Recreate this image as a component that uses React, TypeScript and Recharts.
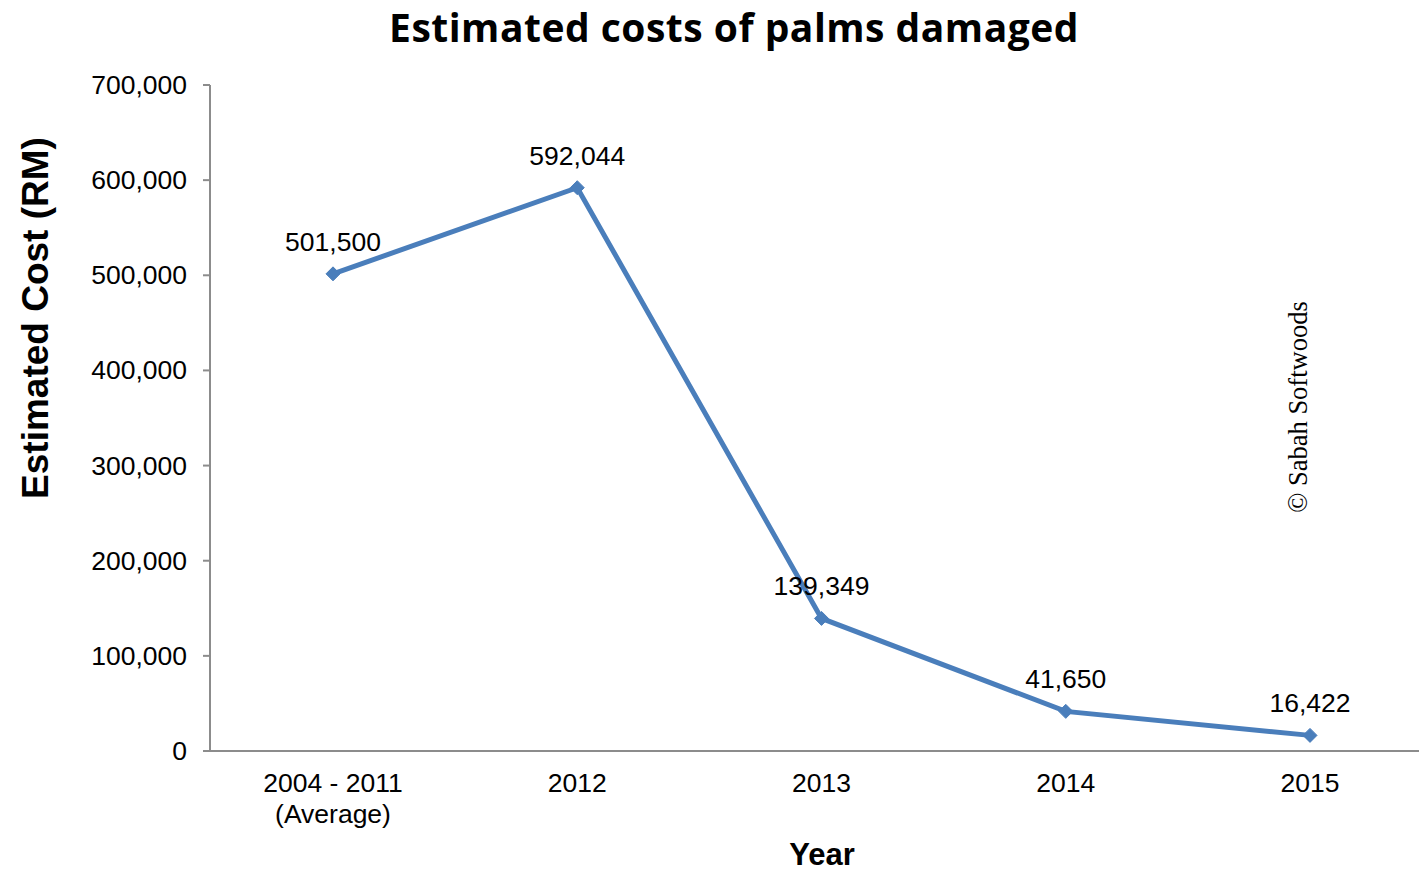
import React from 'react';
import { LineChart, Line, XAxis, YAxis, LabelList } from 'recharts';

const categories = ['2004 - 2011|(Average)', '2012', '2013', '2014', '2015'];
const costs = [501500, 592044, 139349, 41650, 16422];
const yTicks = [0, 100000, 200000, 300000, 400000, 500000, 600000, 700000];

const data = categories.map((c, i) => ({ year: c, cost: costs[i] }));

const fmt = (v: number) => v.toLocaleString('en-US');
const FONT = 'Liberation Sans, Arial, sans-serif';
const AXIS = '#8c8c8c';
const BLUE = '#4a7ebb';
const FS = 26.5;

const XTick = (props: any) => {
  const { x, y, payload } = props;
  const lines = String(payload.value).split('|');
  return (
    <g>
      {lines.map((l: string, i: number) => (
        <text key={i} x={x} y={y + 33 + i * 31} textAnchor="middle" fontSize={FS} fontFamily={FONT} fill="#000">
          {l}
        </text>
      ))}
    </g>
  );
};

const YTick = (props: any) => {
  const { x, y, payload } = props;
  return (
    <text x={x - 14} y={y + 9} textAnchor="end" fontSize={FS} fontFamily={FONT} fill="#000">
      {fmt(payload.value)}
    </text>
  );
};

const ValueLabel = (props: any) => {
  const { x, y, value } = props;
  return (
    <text x={x} y={y - 23} textAnchor="middle" fontSize={FS} fontFamily={FONT} fill="#000">
      {fmt(value)}
    </text>
  );
};

const Diamond = (props: any) => {
  const { cx, cy } = props;
  const s = 7;
  return <path d={`M${cx},${cy - s}L${cx + s},${cy}L${cx},${cy + s}L${cx - s},${cy}Z`} fill={BLUE} stroke={BLUE} strokeWidth={1} />;
};

export default function App() {
  return (
    <div style={{ position: 'absolute', left: 0, top: 0, width: 1419, height: 871, overflow: 'hidden', background: '#fff' }}>
      <LineChart width={1432} height={871} data={data} margin={{ top: 85, right: 0, bottom: 60, left: 110 }}>
        <XAxis
          dataKey="year"
          height={60}
          tickLine={false}
          axisLine={{ stroke: AXIS, strokeWidth: 2 }}
          tick={<XTick />}
          interval={0}
          padding={{ left: 123, right: 122 }}
        />
        <YAxis
          width={100}
          domain={[0, 700000]}
          ticks={yTicks}
          interval={0}
          axisLine={{ stroke: AXIS, strokeWidth: 2 }}
          tickLine={{ stroke: AXIS, strokeWidth: 2 }}
          tickSize={7}
          tick={<YTick />}
        />
        <Line
          type="linear"
          dataKey="cost"
          stroke={BLUE}
          strokeWidth={5}
          dot={<Diamond />}
          activeDot={false}
          isAnimationActive={false}
        >
          <LabelList dataKey="cost" content={<ValueLabel />} />
        </Line>
      </LineChart>
      <svg width={1419} height={871} style={{ position: 'absolute', left: 0, top: 0, pointerEvents: 'none' }}>
        <text x={734} y={42} textAnchor="middle" fontSize={39} letterSpacing={0.5} fontWeight="bold" fontFamily="Open Sans, sans-serif" fill="#000">
          Estimated costs of palms damaged
        </text>
        <text
          transform="translate(48,318) rotate(-90)"
          textAnchor="middle"
          fontSize={37}
          fontWeight="bold"
          fontFamily={FONT}
          fill="#000"
        >
          Estimated Cost (RM)
        </text>
        <text x={822} y={865} textAnchor="middle" fontSize={31} fontWeight="bold" fontFamily={FONT} fill="#000">
          Year
        </text>
        <text
          transform="translate(1307,407) rotate(-90)"
          textAnchor="middle"
          fontSize={26.5}
          fontFamily="Liberation Serif, Times New Roman, serif"
          fill="#000"
        >
          © Sabah Softwoods
        </text>
      </svg>
    </div>
  );
}
